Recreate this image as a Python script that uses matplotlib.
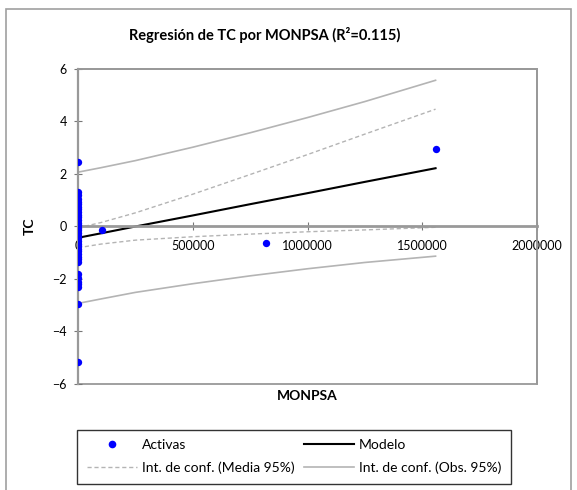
import matplotlib
matplotlib.use('Agg')
import matplotlib.pyplot as plt
from matplotlib.patches import Rectangle
from matplotlib.lines import Line2D

plt.rcParams['font.family'] = ['Lato', 'DejaVu Sans']

# observations (MONPSA, TC)
monpsa = [0] * 35 + [103000, 820000, 1558000]
tc = [2.45, 1.3, 1.2, 1.05, 0.95, 0.85, 0.75, 0.65, 0.55, 0.45, 0.35, 0.25,
      0.15, 0.05, -0.05, -0.15, -0.25, -0.35, -0.45, -0.55, -0.65, -0.75,
      -0.85, -0.95, -1.05, -1.15, -1.25, -1.35, -1.8, -1.95, -2.1, -2.2,
      -2.3, -2.95, -5.15, -0.12, -0.64, 2.97]

# model line and confidence bands read along x
band_x = [0, 100000, 250000, 500000, 750000, 1000000, 1250000, 1558000]
model = [-0.43, -0.26, 0.0, 0.42, 0.85, 1.27, 1.70, 2.22]
mean_up = [-0.05, 0.15, 0.52, 1.23, 1.98, 2.74, 3.52, 4.47]
mean_lo = [-0.81, -0.67, -0.52, -0.39, -0.29, -0.20, -0.13, -0.03]
obs_up = [2.07, 2.24, 2.51, 3.02, 3.57, 4.15, 4.76, 5.57]
obs_lo = [-2.93, -2.76, -2.51, -2.18, -1.88, -1.61, -1.37, -1.13]

fig = plt.figure(figsize=(5.77, 4.9), dpi=100)
fig.patches.append(Rectangle((6 / 577, -0.05), 565 / 577, 1 - 9 / 490 + 0.05,
                             transform=fig.transFigure, fill=False,
                             edgecolor='#a0a0a0', linewidth=1.2))

ax = fig.add_axes([78 / 577, 1 - 384 / 490, 459 / 577, 315 / 490])
gray = '#b4b4b4'
ax.plot(band_x, obs_up, color=gray, lw=1.2)
ax.plot(band_x, obs_lo, color=gray, lw=1.2)
ax.plot(band_x, mean_up, color=gray, lw=1.0, ls=(0, (3, 2)))
ax.plot(band_x, mean_lo, color=gray, lw=1.0, ls=(0, (3, 2)))
ax.plot(band_x, model, color='black', lw=1.5)
ax.scatter(monpsa, tc, s=28, color='#0000ff', zorder=5, linewidths=0)

ax.set_xlim(0, 2000000)
ax.set_ylim(-6, 6)
ax.set_xticks([0, 500000, 1000000, 1500000, 2000000])
ax.set_xticklabels(['0', '500000', '1000000', '1500000', '2000000'])
ax.set_yticks([-6, -4, -2, 0, 2, 4, 6])

axcol = '#999999'
ax.spines['bottom'].set_position(('data', 0))
ax.spines['bottom'].set_color(axcol)
ax.spines['bottom'].set_linewidth(2)
ax.spines['left'].set_color(axcol)
ax.spines['left'].set_linewidth(1.6)
for s in ['top', 'right']:
    ax.spines[s].set_color(axcol)
    ax.spines[s].set_linewidth(1.3)
ax.add_patch(Rectangle((0, 0), 1, 1, transform=ax.transAxes, fill=False,
                       edgecolor=axcol, linewidth=1.3, clip_on=False))
ax.tick_params(direction='inout', length=6, width=0.8, color='#777777',
               labelsize=9, pad=5)
ax.tick_params(axis='x', pad=7)

fig.text(265 / 577, 1 - 35 / 490, 'Regresión de TC por MONPSA (R²=0.115)',
         fontsize=10.5, fontweight='bold', ha='center', va='center')
ax.set_ylabel('TC', fontsize=10, fontweight='bold', labelpad=12)
fig.text(307 / 577, 1 - 396 / 490, 'MONPSA', fontsize=10, fontweight='bold',
         ha='center', va='center')

handles = [
    Line2D([], [], ls='none', marker='o', ms=5.5, color='#0000ff', mec='none'),
    Line2D([], [], color='black', lw=1.5),
    Line2D([], [], color=gray, lw=1.0, ls=(0, (3, 2))),
    Line2D([], [], color=gray, lw=1.2),
]
labels = ['Activas', 'Modelo', 'Int. de conf. (Media 95%)',
          'Int. de conf. (Obs. 95%)']
order = [0, 2, 1, 3]
leg = fig.legend([handles[i] for i in order], [labels[i] for i in order],
                 ncol=2, loc='lower left', mode='expand',
                 bbox_to_anchor=(77 / 577, 6 / 490, 434 / 577, 56 / 490),
                 fancybox=False, edgecolor='black', fontsize=10,
                 handlelength=3.6, handletextpad=0.35, columnspacing=0.1,
                 borderpad=0.7, labelspacing=0.75, borderaxespad=0)
leg.get_frame().set_linewidth(1.0)

fig.savefig('out.png', dpi=100)
